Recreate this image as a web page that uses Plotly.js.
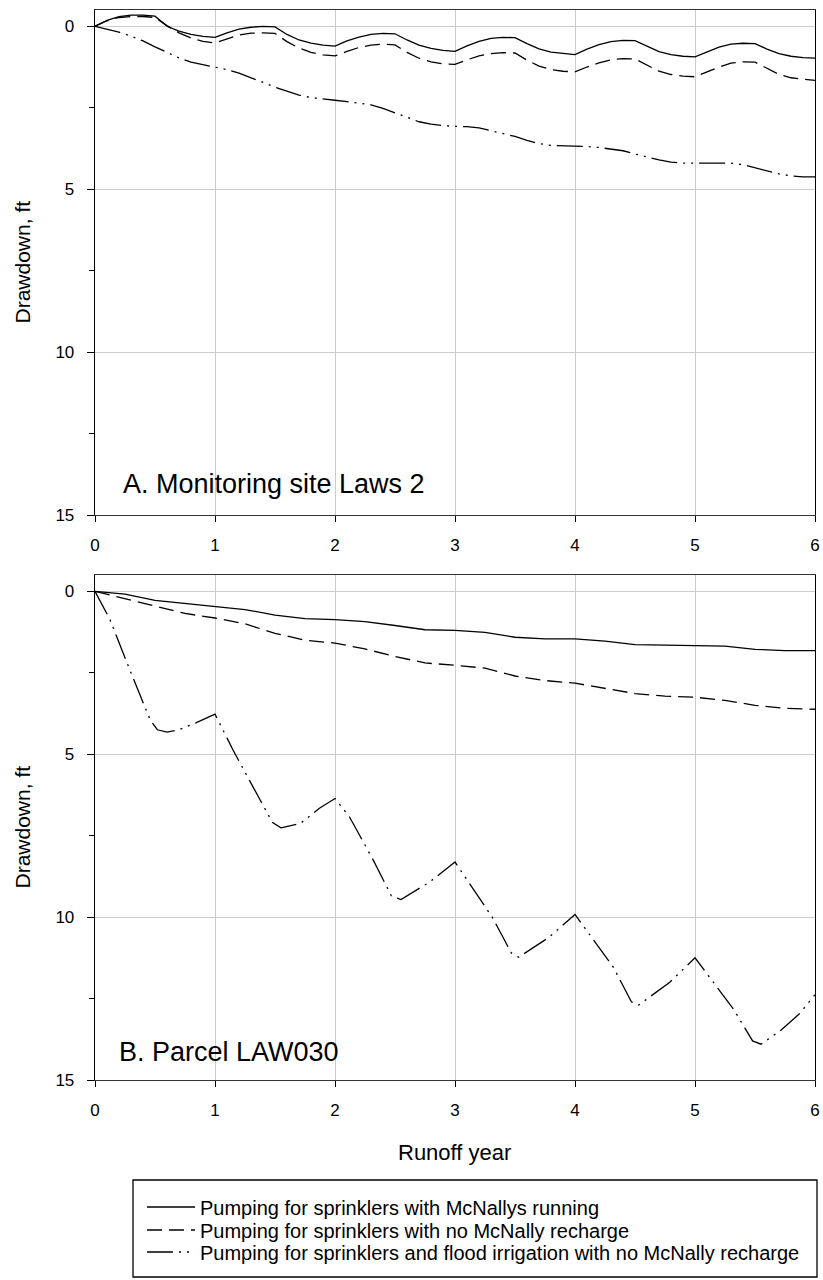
<!DOCTYPE html>
<html>
<head>
<meta charset="utf-8">
<script src="https://cdn.plot.ly/plotly-3.0.1.min.js"></script>
<style>html,body{margin:0;padding:0;background:#fff;}#chart{width:823px;height:1280px;}</style>
</head>
<body>
<div id="chart"></div>
<script>
// ---------- DATA ----------
var seriesNames = [
  "Pumping for sprinklers with McNallys running",
  "Pumping for sprinklers with no McNally recharge",
  "Pumping for sprinklers and flood irrigation with no McNally recharge"
];

// Panel A: Monitoring site Laws 2
var yearsA = [0,0.1,0.2,0.3,0.4,0.5,0.6,0.7,0.8,0.9,1,1.1,1.2,1.3,1.4,1.5,1.6,1.7,1.8,1.9,2,2.1,2.2,2.3,2.4,2.5,2.6,2.7,2.8,2.9,3,3.1,3.2,3.3,3.4,3.5,3.6,3.7,3.8,3.9,4,4.1,4.2,4.3,4.4,4.5,4.6,4.7,4.8,4.9,5,5.1,5.2,5.3,5.4,5.5,5.6,5.7,5.8,5.9,6];
var laws2Running = [0,-0.18,-0.3,-0.34,-0.34,-0.31,0.0,0.15,0.25,0.31,0.34,
  0.2,0.09,0.03,0.0,0.02,0.25,0.42,0.52,0.58,0.61,
  0.45,0.33,0.25,0.22,0.23,0.42,0.58,0.68,0.74,0.77,
  0.6,0.46,0.37,0.34,0.35,0.53,0.69,0.79,0.84,0.87,
  0.7,0.56,0.47,0.43,0.44,0.62,0.78,0.87,0.92,0.94,
  0.78,0.64,0.55,0.52,0.53,0.7,0.84,0.92,0.96,0.98];
var laws2NoRecharge = [0,-0.17,-0.27,-0.3,-0.3,-0.27,-0.02,0.2,0.36,0.46,0.51,
  0.38,0.27,0.21,0.2,0.22,0.47,0.67,0.8,0.88,0.91,
  0.77,0.65,0.58,0.55,0.57,0.8,0.98,1.09,1.15,1.17,
  1.03,0.91,0.84,0.81,0.82,1.04,1.22,1.33,1.38,1.4,
  1.25,1.12,1.03,0.99,1.0,1.2,1.38,1.48,1.53,1.55,
  1.4,1.25,1.13,1.09,1.1,1.3,1.48,1.58,1.63,1.66];
var laws2Flood = [0,0.08,0.18,0.3,0.45,0.63,0.8,0.97,1.1,1.18,1.25,
  1.33,1.44,1.57,1.72,1.87,2.0,2.11,2.19,2.24,2.27,
  2.31,2.35,2.41,2.52,2.65,2.8,2.93,3.0,3.05,3.07,
  3.08,3.12,3.2,3.28,3.38,3.5,3.6,3.66,3.67,3.67,
  3.69,3.72,3.76,3.82,3.92,4.02,4.1,4.17,4.2,4.2,
  4.2,4.19,4.2,4.25,4.35,4.45,4.53,4.59,4.62,4.62];

// Panel B: Parcel LAW030
var yearsB = [0,0.25,0.5,0.75,1,1.25,1.5,1.75,2,2.25,2.5,2.75,3,3.25,3.5,3.75,4,4.25,4.5,4.75,5,5.25,5.5,5.75,6];
var law030Running = [0,0.09,0.28,0.38,0.46,0.56,0.73,0.84,0.87,0.93,1.05,1.18,1.2,1.26,1.41,1.46,1.46,1.53,1.64,1.66,1.66,1.68,1.78,1.82,1.82];
var law030NoRecharge = [0,0.22,0.46,0.68,0.82,1.0,1.29,1.5,1.59,1.77,2.0,2.2,2.27,2.36,2.6,2.74,2.82,2.97,3.14,3.22,3.25,3.35,3.5,3.59,3.62];
var yearsBFlood = [0,0.125,0.29,0.46,0.52,0.6,0.7,0.84,1,1.15,1.375,1.48,1.55,1.71,1.87,2,2.12,2.32,2.47,2.55,2.79,3,3.31,3.47,3.53,3.78,4,4.32,4.47,4.53,4.79,5,5.32,5.48,5.55,5.71,5.87,6];
var law030Flood = [0,0.87,2.41,3.95,4.25,4.32,4.25,4.04,3.77,4.87,6.4,7.1,7.26,7.13,6.66,6.36,6.92,8.26,9.35,9.46,8.92,8.31,10.0,11.1,11.23,10.63,9.92,11.54,12.6,12.7,12.0,11.25,12.82,13.8,13.9,13.49,12.97,12.38];

var xTicks = [0,1,2,3,4,5,6];
var yTicks = [0,5,10,15];
var yMinorTicks = [2.5,7.5,12.5];

// ---------- STYLE ----------
var FONT = "Liberation Sans, Arial, Helvetica, sans-serif";
var W = 823, H = 1280;
var dashes = ["solid", "15px,7px", "26px,6px,2px,6px,2px,6px"];
var legendIds = ["legend", "legend2", "legend3"];
function px2x(p){ return p / W; }
function py2y(p){ return 1 - p / H; }

function line(x, y, i, xa, ya, show){
  return {x: x, y: y, type: "scatter", mode: "lines", name: seriesNames[i],
    xaxis: xa, yaxis: ya, showlegend: show, legend: legendIds[i], hoverinfo: "skip",
    line: {color: "#000", width: 1.3, dash: dashes[i]}};
}

var traces = [
  line(yearsA, laws2Running, 0, "x", "y", true),
  line(yearsA, laws2NoRecharge, 1, "x", "y", true),
  line(yearsA, laws2Flood, 2, "x", "y", true),
  line(yearsB, law030Running, 0, "x2", "y2", false),
  line(yearsB, law030NoRecharge, 1, "x2", "y2", false),
  line(yearsBFlood, law030Flood, 2, "x2", "y2", false)
];

var xDomain = [px2x(95), px2x(815)];
function xAxis(anchor){
  return {domain: xDomain, anchor: anchor, range: [0, 6], tickvals: xTicks,
    ticks: "outside", ticklen: 6, tickcolor: "#000", tickwidth: 1,
    showline: true, linecolor: "#333", linewidth: 1.3, mirror: true,
    showgrid: true, gridcolor: "#cccccc", gridwidth: 1, zeroline: false,
    tickfont: {family: FONT, size: 17, color: "#000"}, ticklabelstandoff: 8,
    fixedrange: true};
}
function yAxis(anchor, dom){
  return {domain: dom, anchor: anchor, range: [15, -0.5], tickvals: yTicks,
    ticks: "outside", ticklen: 7, tickcolor: "#000", tickwidth: 1,
    minor: {tickvals: yMinorTicks, ticks: "outside", ticklen: 5, tickcolor: "#000", showgrid: false},
    showline: true, linecolor: "#000", linewidth: 1.3, mirror: true,
    showgrid: true, gridcolor: "#cccccc", gridwidth: 1, zeroline: false,
    tickfont: {family: FONT, size: 17, color: "#000"}, ticklabelstandoff: 9,
    fixedrange: true};
}
function yRight(overlay, anchor, dom){
  return {domain: dom, anchor: anchor, overlaying: overlay, side: "right",
    range: [15, -0.5], tickvals: yMinorTicks, ticks: "outside", ticklen: 5,
    tickcolor: "#000", showticklabels: false, showgrid: false, showline: false,
    zeroline: false, fixedrange: true};
}
function legendAt(rowY){
  return {x: px2x(142), y: py2y(rowY), xanchor: "left", yanchor: "middle",
    bgcolor: "rgba(0,0,0,0)", borderwidth: 0, itemwidth: 48,
    font: {family: FONT, size: 20, color: "#000"}};
}

var domA = [py2y(515), py2y(10)];
var domB = [py2y(1080), py2y(575)];

var layout = {
  width: W, height: H,
  margin: {l: 0, r: 0, t: 0, b: 0},
  paper_bgcolor: "#fff", plot_bgcolor: "#fff",
  font: {family: FONT, color: "#000"},
  xaxis: xAxis("y"),
  yaxis: yAxis("x", domA),
  xaxis2: xAxis("y2"),
  yaxis2: yAxis("x2", domB),
  yaxis3: yRight("y", "x", domA),
  yaxis4: yRight("y2", "x2", domB),
  showlegend: true,
  legend: legendAt(1207),
  legend2: legendAt(1230),
  legend3: legendAt(1252),
  shapes: [
    {type: "rect", xref: "paper", yref: "paper",
     x0: px2x(133), x1: px2x(817), y0: py2y(1277), y1: py2y(1180),
     line: {color: "#000", width: 1.3}, fillcolor: "rgba(0,0,0,0)"}
  ],
  annotations: [
    {text: "Drawdown, ft", xref: "paper", yref: "paper", x: px2x(22), y: py2y(262.5),
     xanchor: "center", yanchor: "middle",
     textangle: -90, showarrow: false, font: {family: FONT, size: 21, color: "#000"}},
    {text: "Drawdown, ft", xref: "paper", yref: "paper", x: px2x(22), y: py2y(827.5),
     xanchor: "center", yanchor: "middle",
     textangle: -90, showarrow: false, font: {family: FONT, size: 21, color: "#000"}},
    {text: "Runoff year", xref: "paper", yref: "paper", x: px2x(455), y: py2y(1152),
     xanchor: "center", yanchor: "middle",
     showarrow: false, font: {family: FONT, size: 22, color: "#000"}},
    {text: "A. Monitoring site Laws 2", xref: "paper", yref: "paper", x: px2x(121), y: py2y(484),
     xanchor: "left", yanchor: "middle", showarrow: false, font: {family: FONT, size: 27, color: "#000"}},
    {text: "B. Parcel LAW030", xref: "paper", yref: "paper", x: px2x(117), y: py2y(1052),
     xanchor: "left", yanchor: "middle", showarrow: false, font: {family: FONT, size: 27, color: "#000"}}
  ]
};

Plotly.newPlot("chart", traces, layout, {staticPlot: true, displayModeBar: false});
</script>
</body>
</html>
